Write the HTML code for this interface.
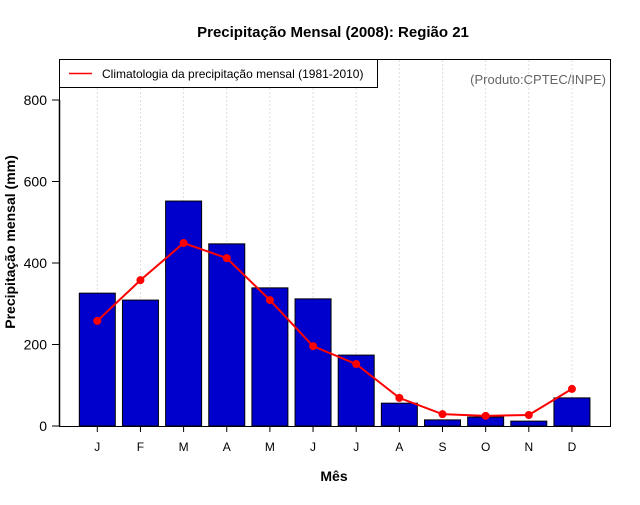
<!DOCTYPE html>
<html><head><meta charset="utf-8"><style>
body{margin:0;background:#fff;font-family:"Liberation Sans",sans-serif}
</style></head><body>
<svg width="640" height="500" xmlns="http://www.w3.org/2000/svg" font-family="Liberation Sans, sans-serif">
<rect width="640" height="500" fill="#fff"/>
<text x="333" y="37" text-anchor="middle" font-size="15" font-weight="bold">Precipitação Mensal (2008): Região 21</text>
<g id="grid"></g>
<g id="bars"></g>
<g id="line"></g>
<rect x="59.5" y="59.5" width="551" height="367" fill="none" stroke="#000" stroke-width="1"/>
<g id="axes"></g>
<g>
<rect x="59.5" y="59.5" width="318" height="28" fill="#fff" stroke="#000" stroke-width="1"/>
<line x1="69" y1="73.5" x2="92" y2="73.5" stroke="red" stroke-width="1.5"/>
<text x="102" y="78" font-size="12">Climatologia da precipitação mensal (1981-2010)</text>
</g>
<text x="606" y="84" text-anchor="end" font-size="13" fill="#666">(Produto:CPTEC/INPE)</text>
<text x="334" y="481" text-anchor="middle" font-size="14" font-weight="bold">Mês</text>
<text transform="translate(15,242) rotate(-90)" text-anchor="middle" font-size="14" font-weight="bold">Precipitação mensal (mm)</text>
</svg>
<script>
const months=["J","F","M","A","M","J","J","A","S","O","N","D"];
const observed=[326,309,552,447,339,312,174,56,15,22,12,69];
const climatology=[258,358,449,412,309,196,152,69,29,25,27,91];
const yTicks=[0,200,400,600,800];
const NS="http://www.w3.org/2000/svg";
function yScale(v){return 426-v*0.4075;}
function xScale(i){return 97.3+i*43.15;}
function mk(tag,attrs,parent){const e=document.createElementNS(NS,tag);for(const k in attrs)e.setAttribute(k,attrs[k]);document.getElementById(parent).appendChild(e);return e;}
months.forEach((m,i)=>{
  const x=xScale(i);
  const g=mk("line",{x1:x,y1:60,x2:x,y2:426,stroke:"#ddd","stroke-dasharray":"2,2"},"grid");
  
  
  const b=mk("rect",{x:x-18,y:yScale(observed[i]),width:36,height:426-yScale(observed[i]),fill:"#0000cd",stroke:"#000","stroke-width":1},"bars");
  
  
  const t=mk("line",{x1:x,y1:426,x2:x,y2:432,stroke:"#000"},"axes");
  
  
  const l=mk("text",{x:x,y:451,"text-anchor":"middle","font-size":12},"axes");
  l.textContent=m;
  
  
});
const pts=climatology.map((v,i)=>xScale(i)+","+yScale(v)).join(" ");
const pl=mk("polyline",{points:pts,fill:"none",stroke:"red","stroke-width":2},"line");


climatology.forEach((v,i)=>{
  const c=mk("circle",{cx:xScale(i),cy:yScale(v),r:4,fill:"red"},"line");
  
  
});
const ax=mk("line",{x1:59.5,y1:yScale(0),x2:59.5,y2:yScale(800),stroke:"#000","stroke-width":1.5},"axes");


yTicks.forEach(v=>{
  const y=yScale(v);
  const t=mk("line",{x1:52,y1:y,x2:59,y2:y,stroke:"#000"},"axes");
  
  
  const l=mk("text",{x:47,y:y+5,"text-anchor":"end","font-size":14},"axes");
  l.textContent=v;
  
  
});
</script>
</body></html>
